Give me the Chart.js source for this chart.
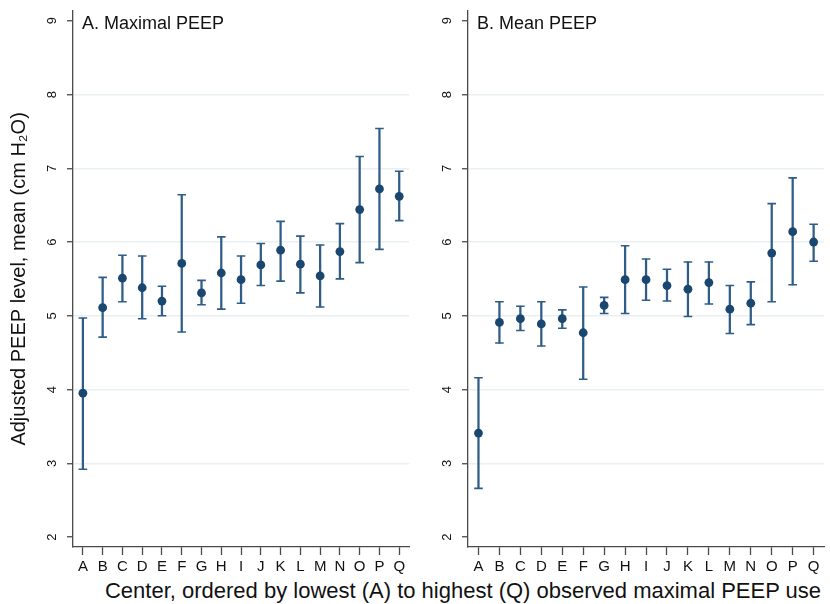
<!DOCTYPE html>
<html>
<head>
<meta charset="utf-8">
<script src="https://cdn.jsdelivr.net/npm/chart.js@4.4.1/dist/chart.umd.min.js"></script>
<style>
  html, body { margin: 0; padding: 0; background: #fff; }
  body { width: 830px; height: 604px; position: relative; overflow: hidden; font-family: "Liberation Sans", Arial, sans-serif; }
  .painel { position: absolute; top: 0; width: 415px; height: 575px; }
  #tituloX { position: absolute; left: 0; width: 926px; top: 578px; text-align: center; font-size: 22px; color: #111; white-space: nowrap; }
</style>
</head>
<body>
<div class="painel" style="left:0"><canvas id="graficoMaximo"></canvas></div>
<div class="painel" style="left:415px"><canvas id="graficoMedio"></canvas></div>
<div id="tituloX">Center, ordered by lowest (A) to highest (Q) observed maximal PEEP use</div>
<script>
// Centros e marcas do eixo Y
const centros = ['A', 'B', 'C', 'D', 'E', 'F', 'G', 'H', 'I', 'J', 'K', 'L', 'M', 'N', 'O', 'P', 'Q'];
const marcasY = [2, 3, 4, 5, 6, 7, 8, 9];

// A. PEEP máxima (média e IC 95%)
const maxMedia = [3.95, 5.11, 5.51, 5.38, 5.20, 5.71, 5.31, 5.58, 5.49, 5.69, 5.89, 5.70, 5.54, 5.87, 6.44, 6.72, 6.62];
const maxInf   = [2.92, 4.71, 5.19, 4.96, 5.00, 4.78, 5.15, 5.09, 5.17, 5.41, 5.47, 5.31, 5.12, 5.50, 5.72, 5.90, 6.29];
const maxSup   = [4.97, 5.52, 5.82, 5.81, 5.40, 6.64, 5.48, 6.07, 5.81, 5.98, 6.28, 6.08, 5.96, 6.25, 7.16, 7.54, 6.96];

// B. PEEP média (média e IC 95%)
const medMedia = [3.41, 4.91, 4.96, 4.89, 4.96, 4.77, 5.14, 5.49, 5.49, 5.41, 5.36, 5.45, 5.09, 5.17, 5.85, 6.14, 6.00];
const medInf   = [2.66, 4.63, 4.80, 4.59, 4.83, 4.14, 5.03, 5.03, 5.21, 5.20, 4.99, 5.16, 4.76, 4.88, 5.19, 5.42, 5.74];
const medSup   = [4.16, 5.19, 5.13, 5.19, 5.08, 5.39, 5.25, 5.95, 5.77, 5.63, 5.73, 5.73, 5.41, 5.46, 6.52, 6.87, 6.24];

const fonte = '"Liberation Sans", Arial, sans-serif';
const corPonto = '#1a476f';
const corBarra = '#2f5d88';
const corEixo = '#4a4a4a';
const corGrade = '#e9f0f1';

// Desenha rótulos do eixo Y girados e o título do painel
const pluginTextos = {
    id: 'textos',
    afterDraw(chart, args, opts) {
        const ctx = chart.ctx;
        const y = chart.scales.y;
        ctx.save();
        ctx.fillStyle = '#111';
        ctx.font = '13px ' + fonte;
        ctx.textAlign = 'center';
        ctx.textBaseline = 'middle';
        marcasY.forEach(v => {
            const py = y.getPixelForValue(v);
            ctx.save();
            ctx.translate(y.right - 21, py);
            ctx.rotate(-Math.PI / 2);
            ctx.fillText(String(v), 0, 0);
            ctx.restore();
        });
        ctx.font = '18px ' + fonte;
        ctx.textAlign = 'left';
        ctx.textBaseline = 'alphabetic';
        ctx.fillText(opts.titulo, chart.chartArea.left + 9, chart.chartArea.top + 18);
        ctx.restore();
    }
};

function criarPainel(idCanvas, titulo, media, inf, sup, larguraY, tituloY) {
    const ctx = document.getElementById(idCanvas).getContext('2d');
    return new Chart(ctx, {
        data: {
            labels: centros,
            datasets: [
                {
                    type: 'line',
                    data: media,
                    showLine: false,
                    pointStyle: 'circle',
                    pointRadius: 4.4,
                    pointBackgroundColor: corPonto,
                    pointBorderWidth: 0,
                    order: 0
                },
                {
                    type: 'line',
                    data: sup,
                    showLine: false,
                    pointStyle: 'line',
                    pointRadius: 4.3,
                    pointBorderColor: corBarra,
                    pointBorderWidth: 1.6,
                    order: 1
                },
                {
                    type: 'line',
                    data: inf,
                    showLine: false,
                    pointStyle: 'line',
                    pointRadius: 4.3,
                    pointBorderColor: corBarra,
                    pointBorderWidth: 1.6,
                    order: 1
                },
                {
                    type: 'bar',
                    data: inf.map((v, i) => [v, sup[i]]),
                    backgroundColor: corBarra,
                    barThickness: 1.6,
                    order: 2
                }
            ]
        },
        options: {
            responsive: true,
            maintainAspectRatio: false,
            animation: false,
            layout: { padding: { top: 9, left: 0, right: 0, bottom: 0 } },
            plugins: {
                legend: { display: false },
                tooltip: { enabled: false },
                textos: { titulo: titulo }
            },
            scales: {
                x: {
                    offset: true,
                    grid: {
                        offset: false,
                        drawOnChartArea: false,
                        tickLength: 8,
                        tickColor: corEixo,
                        tickWidth: 1.3
                    },
                    border: { color: corEixo, width: 1.3 },
                    ticks: { color: '#111', font: { family: fonte, size: 15 }, padding: 3, maxRotation: 0, autoSkip: false },
                    afterFit: s => { s.height = 28; }
                },
                y: {
                    min: 1.865,
                    max: 9.135,
                    afterBuildTicks: s => { s.ticks = marcasY.map(v => ({ value: v })); },
                    grid: {
                        color: c => (c.tick && (c.tick.value === 2 || c.tick.value === 9)) ? 'rgba(0,0,0,0)' : corGrade,
                        lineWidth: 1.5,
                        tickLength: 6,
                        tickColor: corEixo,
                        tickWidth: 1.3
                    },
                    border: { color: corEixo, width: 1.3 },
                    ticks: { color: 'rgba(0,0,0,0)', font: { family: fonte, size: 13 } },
                    title: {
                        display: tituloY !== '',
                        text: tituloY,
                        color: '#111',
                        font: { family: fonte, size: 20 },
                        padding: { top: 7, bottom: 0 }
                    },
                    afterFit: s => { s.width = larguraY; }
                }
            }
        },
        plugins: [pluginTextos]
    });
}

criarPainel('graficoMaximo', 'A. Maximal PEEP', maxMedia, maxInf, maxSup, 73, 'Adjusted PEEP level, mean (cm H\u2082O)');
criarPainel('graficoMedio', 'B. Mean PEEP', medMedia, medInf, medSup, 53, '');
</script>
</body>
</html>
